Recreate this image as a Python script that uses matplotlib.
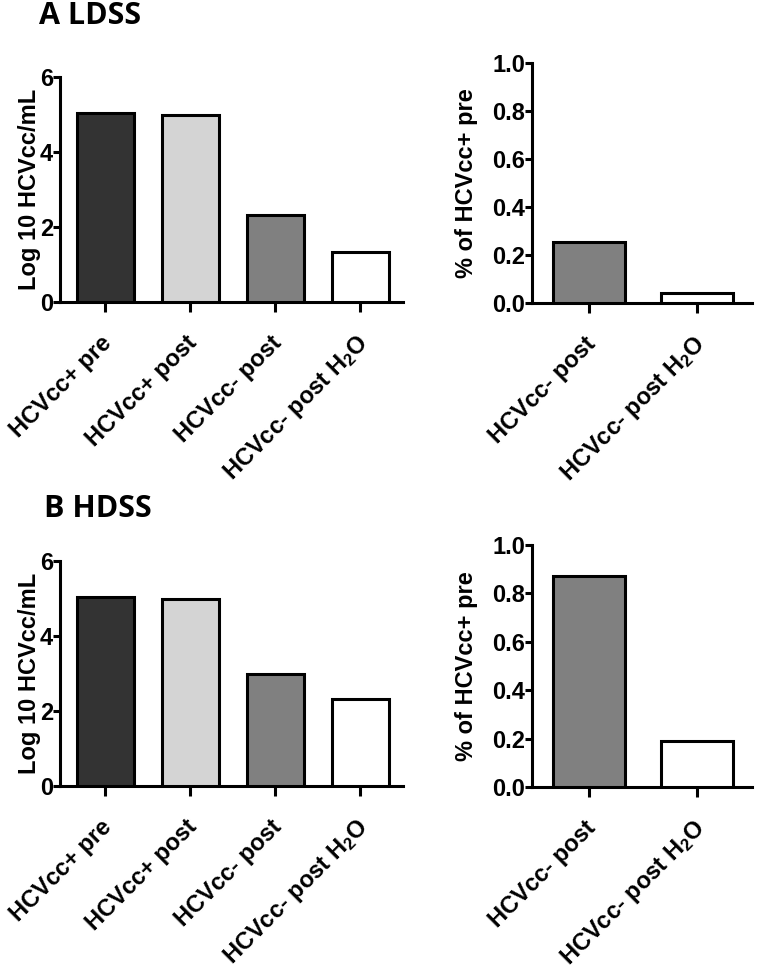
import matplotlib.pyplot as plt

plt.rcParams['font.family'] = ['Liberation Sans', 'DejaVu Sans']
plt.rcParams['font.weight'] = 'bold'
plt.rcParams['mathtext.fontset'] = 'custom'
plt.rcParams['mathtext.rm'] = 'Liberation Sans:bold'
plt.rcParams['mathtext.bf'] = 'Liberation Sans:bold'
plt.rcParams['mathtext.default'] = 'bf'

# data
cats_log = ['HCVcc+ pre', 'HCVcc+ post', 'HCVcc- post', 'HCVcc- post H$_2$O']
cats_pct = ['HCVcc- post', 'HCVcc- post H$_2$O']
colors_log = ['#333333', '#d4d4d4', '#808080', '#ffffff']
colors_pct = ['#808080', '#ffffff']

ldss_log = [5.05, 4.99, 2.32, 1.33]
ldss_pct = [0.254, 0.043]
hdss_log = [5.05, 5.00, 3.00, 2.32]
hdss_pct = [0.87, 0.19]

W, H = 760, 975
fig = plt.figure(figsize=(7.6, 9.75), dpi=100)


def box(x0, y0, x1, y1):
    # pixel box -> figure fraction
    return [x0 / W, 1 - y1 / H, (x1 - x0) / W, (y1 - y0) / H]


def bar_panel(ax, cats, vals, cols, ylim, yticks, ylabel, xlim, fmt, lpad):
    x = list(range(len(cats)))
    ax.bar(x, vals, width=0.67, color=cols, edgecolor='black', linewidth=2.2, zorder=3)
    ax.set_xlim(*xlim)
    ax.set_ylim(*ylim)
    ax.set_yticks(yticks)
    ax.set_yticklabels([fmt.format(t) for t in yticks], fontsize=17, fontweight='bold')
    ax.set_xticks(x)
    ax.set_xticklabels([''] * len(x))
    # rotated category labels, placed by hand below each tick
    for i, c in zip(x, cats):
        ax.annotate(c, xy=(i, 0), xycoords=('data', 'axes fraction'),
                    xytext=(-3.5, -21), textcoords='offset points',
                    rotation=45, ha='right', va='top', rotation_mode='anchor',
                    fontsize=17, fontweight='bold', annotation_clip=False)
    ax.set_ylabel(ylabel, fontsize=17, fontweight='bold', labelpad=lpad)
    ax.spines['top'].set_visible(False)
    ax.spines['right'].set_visible(False)
    ax.spines['left'].set_linewidth(2.2)
    ax.spines['bottom'].set_linewidth(2.2)
    ax.tick_params(axis='y', length=5, width=2.2, pad=0)
    ax.tick_params(axis='x', length=7, width=2.2)


ax1 = fig.add_axes(box(60, 77, 403, 302))
bar_panel(ax1, cats_log, ldss_log, colors_log, (0, 6), [0, 2, 4, 6],
          'Log 10 HCVcc/mL', (-0.53, 3.5), '{:g}', -1)
ax2 = fig.add_axes(box(532, 63, 752, 303))
bar_panel(ax2, cats_pct, ldss_pct, colors_pct, (0, 1.0), [0, 0.2, 0.4, 0.6, 0.8, 1.0],
          '% of HCVcc+ pre', (-0.53, 1.51), '{:.1f}', 10)
ax3 = fig.add_axes(box(60, 561, 403, 786))
bar_panel(ax3, cats_log, hdss_log, colors_log, (0, 6), [0, 2, 4, 6],
          'Log 10 HCVcc/mL', (-0.53, 3.5), '{:g}', -1)
ax4 = fig.add_axes(box(532, 545, 752, 787))
bar_panel(ax4, cats_pct, hdss_pct, colors_pct, (0, 1.0), [0, 0.2, 0.4, 0.6, 0.8, 1.0],
          '% of HCVcc+ pre', (-0.53, 1.51), '{:.1f}', 10)

fig.text(39 / W, 1 - 1 / H, 'A LDSS', family='Open Sans', fontweight='bold',
         fontsize=22, va='top', ha='left')
fig.text(44 / W, 1 - 494 / H, 'B HDSS', family='Open Sans', fontweight='bold',
         fontsize=22, va='top', ha='left')

fig.savefig('out.png', dpi=100)
